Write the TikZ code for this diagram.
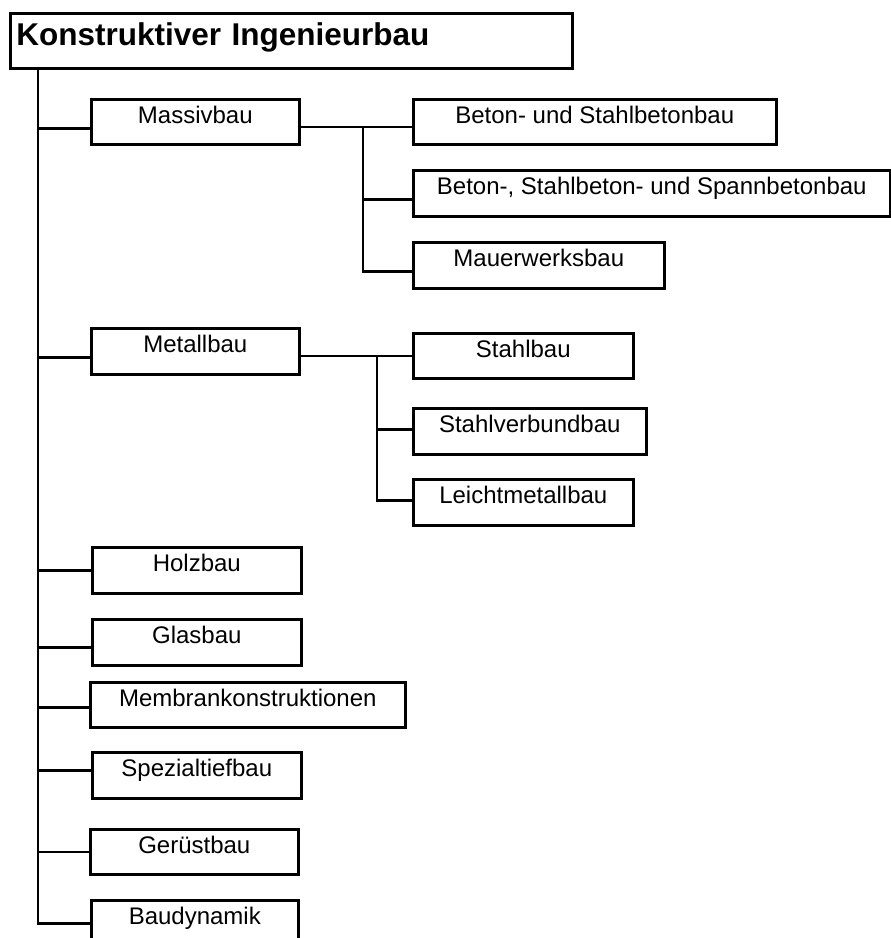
\documentclass[tikz,border=0pt]{standalone}
\usepackage{fontspec}
\setmainfont{Liberation Sans}
\usetikzlibrary{positioning}
\tikzset{box/.style={draw,line width=2.6pt,inner sep=0pt,anchor=north west,
    text height=24pt,text depth=22pt,minimum width=#1,
    font=\fontsize{24}{29}\selectfont}}
\tikzset{head/.style={draw,line width=2.6pt,anchor=north west,inner ysep=0pt,
    inner xsep=6pt,text width=550pt,align=left,text height=32pt,text depth=23pt,
    font=\fontsize{31.5}{36}\selectfont\bfseries}}

\begin{document}
\begin{tikzpicture}[x=1pt,y=-1pt,line width=2.6pt]
    \useasboundingbox (0,0) rectangle (891,938);
    \node[head] (kib) at (9,12) {Konstruktiver Ingenieurbau};
    % erste Ebene
    \node[box=208pt,text depth=21pt] (massiv)  at (90,98)  {Massivbau};
    \node[box=208pt]                 (metall)  at (90,327) {Metallbau};
    \node[box=209pt]                 (holz)    at (91,546) {Holzbau};
    \node[box=209pt]                 (glas)    at (91,618) {Glasbau};
    \node[box=315pt,text depth=21pt] (membran) at (89,681) {Membrankonstruktionen};
    \node[box=209pt]                 (spezial) at (91,751) {Spezialtiefbau};
    \node[box=208pt,text depth=21pt] (geruest) at (89,828) {Gerüstbau};
    \node[box=207pt]                 (baudyn)  at (90,899) {Baudynamik};
    % zweite Ebene
    \node[box=363pt,text depth=21pt] (beton)   at (412,98)  {Beton- und Stahlbetonbau};
    \node[box=477pt]                 (spann)   at (412,169) {Beton-, Stahlbeton- und Spannbetonbau};
    \node[box=251pt]                 (mauer)   at (412,241) {Mauerwerksbau};
    \node[box=220pt,text depth=21pt] (stahl)   at (412,332) {Stahlbau};
    \node[box=233pt]                 (verbund) at (412,407) {Stahlverbundbau};
    \node[box=220pt]                 (leicht)  at (412,478) {Leichtmetallbau};

    \coordinate (trunk) at ([xshift=29pt]kib.south west);
    \coordinate (trunkend) at (38,922);
    \coordinate (mfork) at (363,127);
    \coordinate (sfork) at (377,356);

    \draw (trunk) -- (trunkend);
    \draw (trunk) |- ([yshift=-6.5pt]massiv.west);
    \draw (trunk) |- ([yshift=-6pt]metall.west);
    \draw (trunk) |- (holz.west);
    \draw (trunk) |- ([yshift=-5pt]glas.west);
    \draw (trunk) |- ([yshift=-2.5pt]membran.west);
    \draw (trunk) |- ([yshift=5pt]spezial.west);
    \draw (trunk) |- (geruest.west);
    \draw (trunk) |- (baudyn.west);

    \draw (massiv.east |- mfork) -- (mfork) -- (mfork -| beton.west);
    \draw (mfork) |- ([yshift=-6pt]spann.west);
    \draw (mfork) |- ([yshift=-6pt]mauer.west);

    \draw (metall.east |- sfork) -- (sfork) -- (sfork -| stahl.west);
    \draw (sfork) |- ([yshift=2pt]verbund.west);
    \draw (sfork) |- ([yshift=2pt]leicht.west);
\end{tikzpicture}
\end{document}
